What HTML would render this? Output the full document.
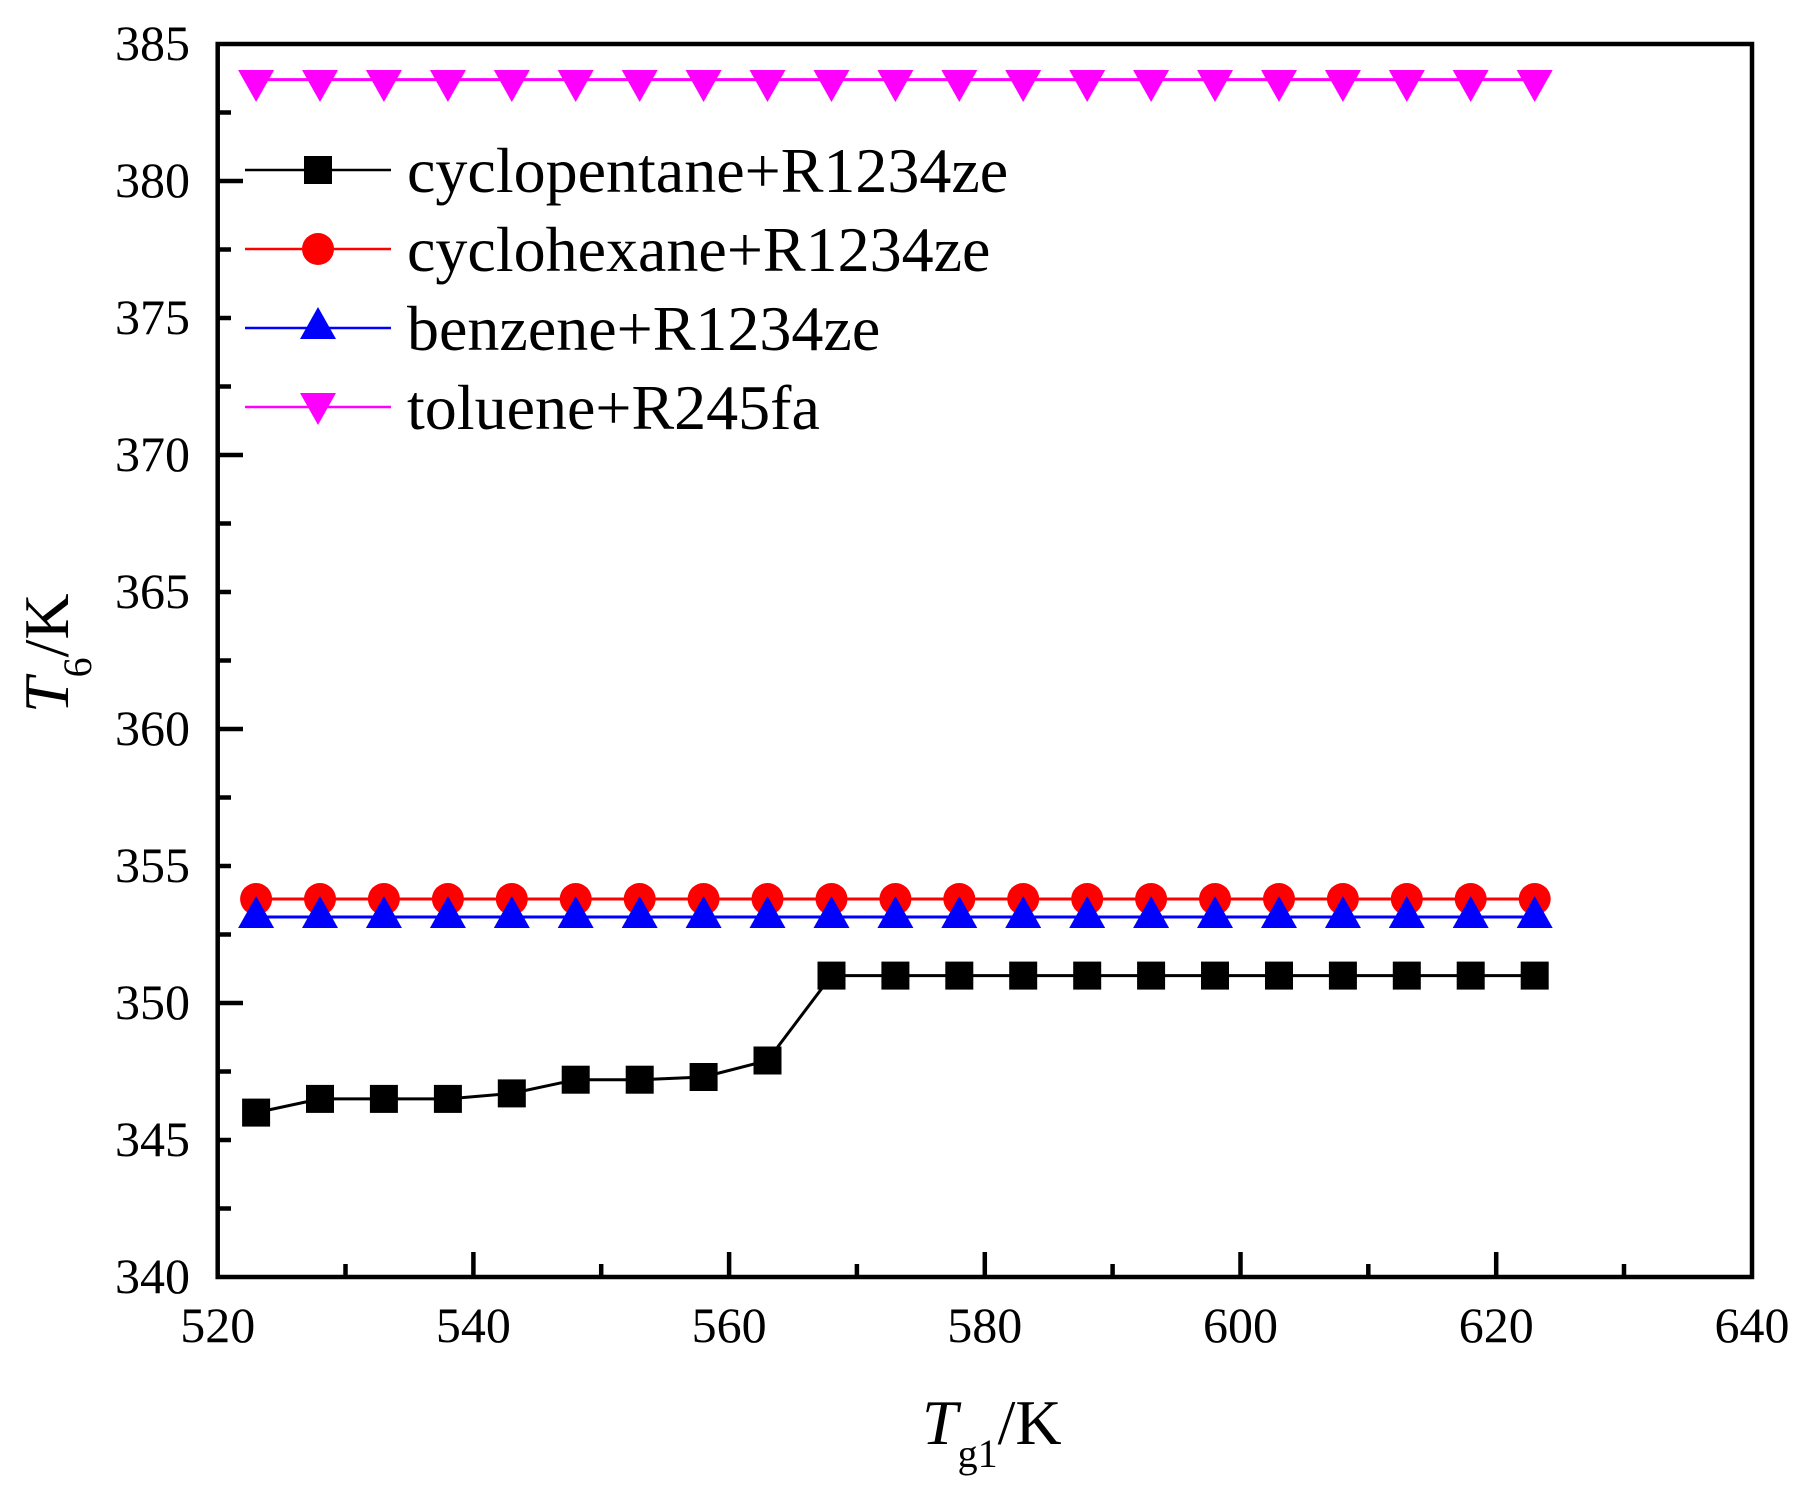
<!DOCTYPE html>
<html><head><style>body{margin:0;background:#fff}svg{display:block}text{font-family:"Liberation Serif",serif;fill:#000}</style></head>
<body>
<svg width="1810" height="1489" viewBox="0 0 1810 1489" xmlns="http://www.w3.org/2000/svg">
<defs>
<rect id="sq" x="-14" y="-14" width="28" height="28" fill="#000"/>
<circle id="ci" r="16" fill="#f00"/>
<polygon id="tu" points="0,-21 18,11 -18,11" fill="#00f"/>
<polygon id="td" points="0,16 18,-16 -18,-16" fill="#f0f"/>
</defs>
<!-- axes -->
<rect x="217.7" y="44" width="1534.3" height="1233" fill="none" stroke="#000" stroke-width="4.5"/>
<g stroke="#000" stroke-width="4.5">
<!-- x ticks major -->
<line x1="473.4" y1="1277" x2="473.4" y2="1252"/><line x1="729.1" y1="1277" x2="729.1" y2="1252"/><line x1="984.8" y1="1277" x2="984.8" y2="1252"/><line x1="1240.5" y1="1277" x2="1240.5" y2="1252"/><line x1="1496.2" y1="1277" x2="1496.2" y2="1252"/>
<line x1="345.5" y1="1277" x2="345.5" y2="1264"/><line x1="601.2" y1="1277" x2="601.2" y2="1264"/><line x1="856.9" y1="1277" x2="856.9" y2="1264"/><line x1="1112.6" y1="1277" x2="1112.6" y2="1264"/><line x1="1368.3" y1="1277" x2="1368.3" y2="1264"/><line x1="1624" y1="1277" x2="1624" y2="1264"/>
<!-- y ticks -->
<line x1="217.7" y1="1140" x2="231" y2="1140"/><line x1="217.7" y1="1003" x2="243" y2="1003"/><line x1="217.7" y1="866" x2="231" y2="866"/><line x1="217.7" y1="729" x2="243" y2="729"/><line x1="217.7" y1="592" x2="231" y2="592"/><line x1="217.7" y1="455" x2="243" y2="455"/><line x1="217.7" y1="318" x2="231" y2="318"/><line x1="217.7" y1="181" x2="243" y2="181"/><line x1="217.7" y1="112.5" x2="231" y2="112.5"/><line x1="217.7" y1="249.5" x2="231" y2="249.5"/><line x1="217.7" y1="386.5" x2="231" y2="386.5"/><line x1="217.7" y1="523.5" x2="231" y2="523.5"/><line x1="217.7" y1="660.5" x2="231" y2="660.5"/><line x1="217.7" y1="797.5" x2="231" y2="797.5"/><line x1="217.7" y1="934.5" x2="231" y2="934.5"/><line x1="217.7" y1="1071.5" x2="231" y2="1071.5"/><line x1="217.7" y1="1208.5" x2="231" y2="1208.5"/>
</g>
<g font-size="50" text-anchor="end">
<text x="190" y="60">385</text><text x="190" y="197">380</text><text x="190" y="334">375</text><text x="190" y="471">370</text><text x="190" y="608">365</text><text x="190" y="745">360</text><text x="190" y="882">355</text><text x="190" y="1019">350</text><text x="190" y="1156">345</text><text x="190" y="1293">340</text>
</g>
<g font-size="50" text-anchor="middle">
<text x="217.7" y="1342">520</text><text x="473.4" y="1342">540</text><text x="729.1" y="1342">560</text><text x="984.8" y="1342">580</text><text x="1240.5" y="1342">600</text><text x="1496.2" y="1342">620</text><text x="1752" y="1342">640</text>
</g>
<text x="922" y="1444" font-size="64"><tspan font-style="italic">T</tspan><tspan font-size="40" dy="23">g1</tspan><tspan dy="-23">/K</tspan></text>
<text transform="translate(68,713) rotate(-90)" font-size="64"><tspan font-style="italic">T</tspan><tspan font-size="40" dy="23">6</tspan><tspan dy="-23">/K</tspan></text>
<!-- series -->
<polyline fill="none" stroke="#f0f" stroke-width="3" points="256.1,79.6 1534.7,79.6"/>
<polyline fill="none" stroke="#f00" stroke-width="3" points="256.1,899 1534.7,899"/>
<polyline fill="none" stroke="#00f" stroke-width="3" points="256.1,917 1534.7,917"/>
<polyline fill="none" stroke="#000" stroke-width="3" points="256.1,1112.6 320,1098.9 383.9,1098.9 447.9,1098.9 511.8,1093.4 575.7,1079.7 639.7,1079.7 703.6,1077 767.5,1060.5 831.5,975.6 1534.7,975.6"/>
<g>
<use href="#ci" x="256.1" y="899"/><use href="#ci" x="320" y="899"/><use href="#ci" x="383.9" y="899"/><use href="#ci" x="447.9" y="899"/><use href="#ci" x="511.8" y="899"/><use href="#ci" x="575.7" y="899"/><use href="#ci" x="639.7" y="899"/><use href="#ci" x="703.6" y="899"/><use href="#ci" x="767.5" y="899"/><use href="#ci" x="831.5" y="899"/><use href="#ci" x="895.4" y="899"/><use href="#ci" x="959.3" y="899"/><use href="#ci" x="1023.2" y="899"/><use href="#ci" x="1087.2" y="899"/><use href="#ci" x="1151.1" y="899"/><use href="#ci" x="1215" y="899"/><use href="#ci" x="1279" y="899"/><use href="#ci" x="1342.9" y="899"/><use href="#ci" x="1406.8" y="899"/><use href="#ci" x="1470.7" y="899"/><use href="#ci" x="1534.7" y="899"/>
</g>
<g>
<use href="#tu" x="256.1" y="917"/><use href="#tu" x="320" y="917"/><use href="#tu" x="383.9" y="917"/><use href="#tu" x="447.9" y="917"/><use href="#tu" x="511.8" y="917"/><use href="#tu" x="575.7" y="917"/><use href="#tu" x="639.7" y="917"/><use href="#tu" x="703.6" y="917"/><use href="#tu" x="767.5" y="917"/><use href="#tu" x="831.5" y="917"/><use href="#tu" x="895.4" y="917"/><use href="#tu" x="959.3" y="917"/><use href="#tu" x="1023.2" y="917"/><use href="#tu" x="1087.2" y="917"/><use href="#tu" x="1151.1" y="917"/><use href="#tu" x="1215" y="917"/><use href="#tu" x="1279" y="917"/><use href="#tu" x="1342.9" y="917"/><use href="#tu" x="1406.8" y="917"/><use href="#tu" x="1470.7" y="917"/><use href="#tu" x="1534.7" y="917"/>
</g>
<g>
<use href="#td" x="256.1" y="86"/><use href="#td" x="320" y="86"/><use href="#td" x="383.9" y="86"/><use href="#td" x="447.9" y="86"/><use href="#td" x="511.8" y="86"/><use href="#td" x="575.7" y="86"/><use href="#td" x="639.7" y="86"/><use href="#td" x="703.6" y="86"/><use href="#td" x="767.5" y="86"/><use href="#td" x="831.5" y="86"/><use href="#td" x="895.4" y="86"/><use href="#td" x="959.3" y="86"/><use href="#td" x="1023.2" y="86"/><use href="#td" x="1087.2" y="86"/><use href="#td" x="1151.1" y="86"/><use href="#td" x="1215" y="86"/><use href="#td" x="1279" y="86"/><use href="#td" x="1342.9" y="86"/><use href="#td" x="1406.8" y="86"/><use href="#td" x="1470.7" y="86"/><use href="#td" x="1534.7" y="86"/>
</g>
<g>
<use href="#sq" x="256.1" y="1112.6"/><use href="#sq" x="320" y="1098.9"/><use href="#sq" x="383.9" y="1098.9"/><use href="#sq" x="447.9" y="1098.9"/><use href="#sq" x="511.8" y="1093.4"/><use href="#sq" x="575.7" y="1079.7"/><use href="#sq" x="639.7" y="1079.7"/><use href="#sq" x="703.6" y="1077"/><use href="#sq" x="767.5" y="1060.5"/><use href="#sq" x="831.5" y="975.6"/><use href="#sq" x="895.4" y="975.6"/><use href="#sq" x="959.3" y="975.6"/><use href="#sq" x="1023.2" y="975.6"/><use href="#sq" x="1087.2" y="975.6"/><use href="#sq" x="1151.1" y="975.6"/><use href="#sq" x="1215" y="975.6"/><use href="#sq" x="1279" y="975.6"/><use href="#sq" x="1342.9" y="975.6"/><use href="#sq" x="1406.8" y="975.6"/><use href="#sq" x="1470.7" y="975.6"/><use href="#sq" x="1534.7" y="975.6"/>
</g>
<!-- legend -->
<line x1="245" y1="170" x2="391" y2="170" stroke="#000" stroke-width="2.5"/><use href="#sq" x="318" y="170"/>
<line x1="245" y1="249" x2="391" y2="249" stroke="#f00" stroke-width="2.5"/><use href="#ci" x="318" y="249"/>
<line x1="245" y1="328" x2="391" y2="328" stroke="#00f" stroke-width="2.5"/><use href="#tu" x="318" y="328"/>
<line x1="245" y1="407" x2="391" y2="407" stroke="#f0f" stroke-width="2.5"/><use href="#td" x="318" y="409"/>
<g font-size="64">
<text x="407" y="192">cyclopentane+R1234ze</text>
<text x="407" y="271">cyclohexane+R1234ze</text>
<text x="407" y="350">benzene+R1234ze</text>
<text x="407" y="429">toluene+R245fa</text>
</g>
</svg>
</body></html>
